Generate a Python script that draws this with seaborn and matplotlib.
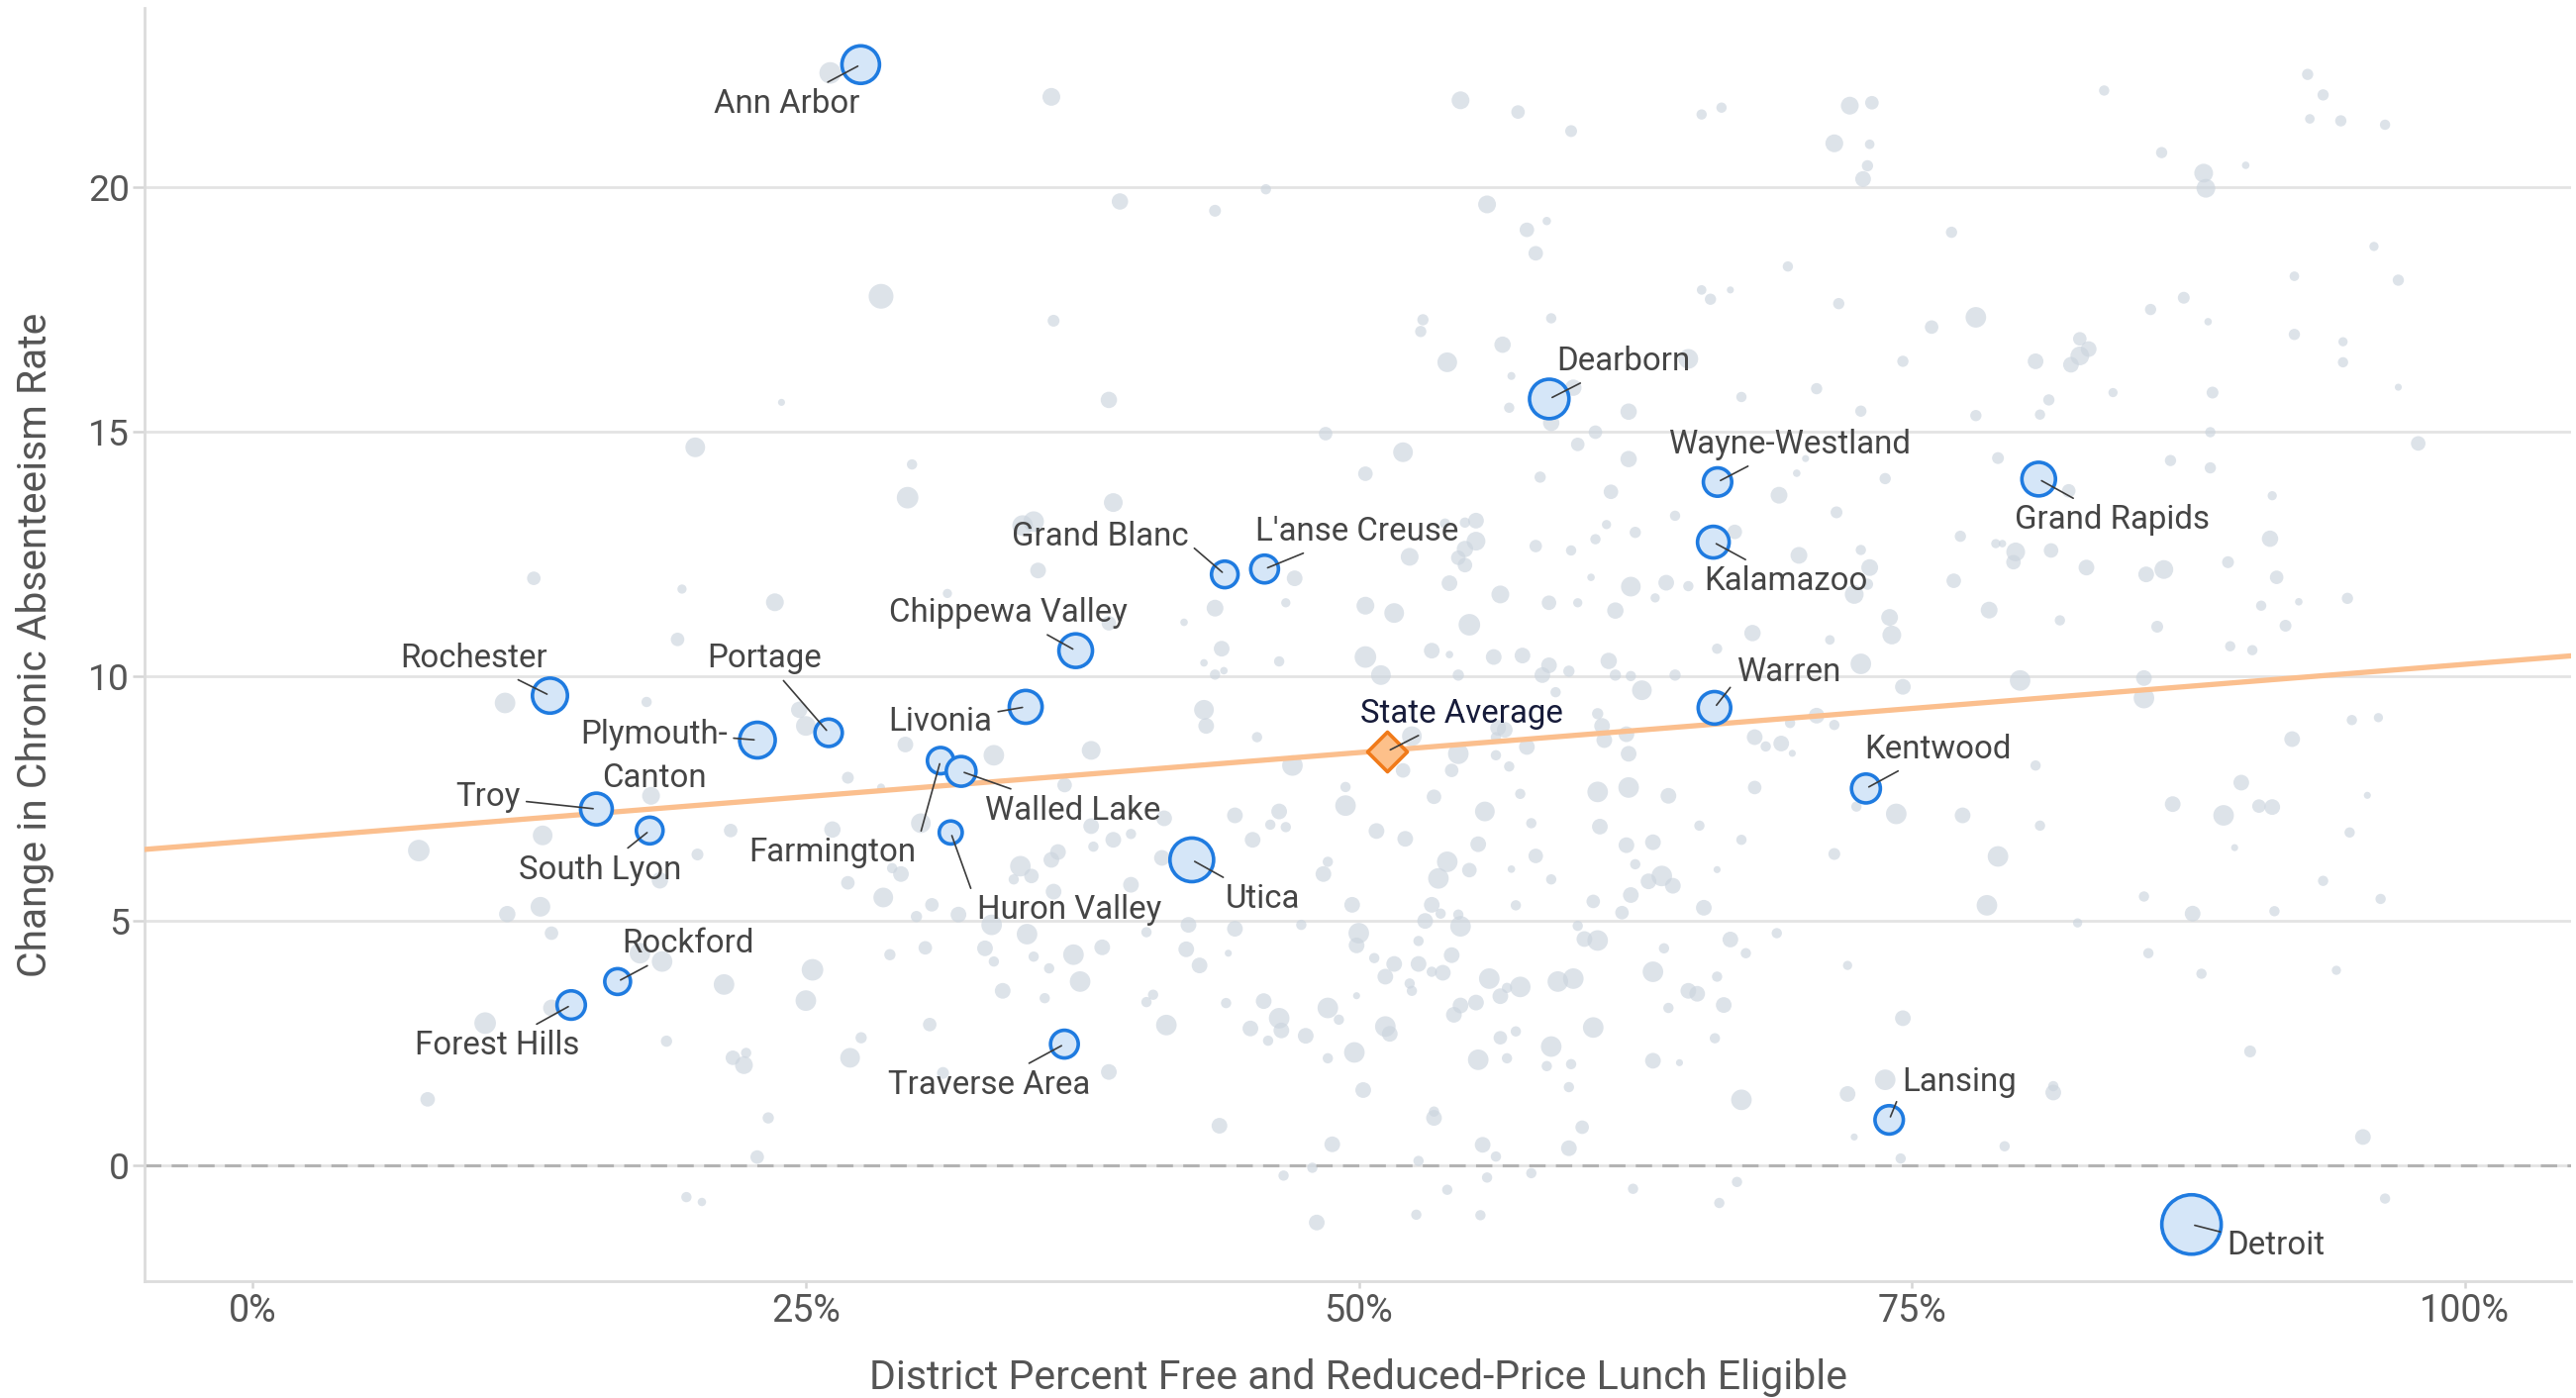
import matplotlib
matplotlib.use("Agg")
import matplotlib.pyplot as plt
import seaborn as sns
import pandas as pd
import numpy as np

# ---------------- data ----------------
# Background districts: % FRL eligible, change in chronic absenteeism, enrollment (thousands)
bg_frl = [
    26.1, 28.4, 23.9, 20.0, 29.8, 29.6, 12.7, 19.4, 23.6, 31.4, 19.2,
    36.1, 54.6, 57.2, 59.6, 65.5, 66.4, 45.8, 39.2, 43.5, 55.8, 57.6, 58.5, 58.0, 36.2, 52.9,
    52.8, 58.7, 65.5, 65.9, 66.8, 56.5, 54.0, 56.9, 64.9, 59.7, 38.7, 56.8, 62.2, 67.3, 58.7,
    48.5, 60.7, 52.0, 50.3, 59.9, 62.2, 58.2, 61.4, 38.9, 34.8, 35.3, 64.3, 61.2, 62.5, 55.3,
    54.8, 53.9, 55.3, 54.8, 54.5, 54.8, 60.7, 58.0, 59.6, 52.3, 35.5, 47.1, 60.5, 62.3, 63.9,
    64.9, 67.0, 54.1, 56.4, 46.7, 43.5, 50.3, 51.6, 58.6, 59.9, 61.6, 63.4, 42.1, 38.7, 55.0, 67.8,
    92.9, 93.6, 93.0, 94.4, 96.4, 83.7, 72.2, 73.2, 71.5, 73.1, 73.0, 72.8, 86.3, 88.2, 88.3,
    90.1, 76.8, 69.4, 71.7, 77.9, 75.9, 74.6, 70.7, 72.7, 77.9, 80.6, 82.6, 82.6, 83.0, 82.2,
    81.2, 80.8, 84.1, 85.8, 87.3, 88.4, 88.6, 88.5, 92.3, 95.9, 97.0, 92.3, 94.5, 94.5, 97.0,
    97.9, 70.2, 69.8, 73.8, 69.0, 71.6, 78.9, 82.1, 86.7, 88.5, 91.3, 77.2, 78.8, 79.1, 79.7,
    79.6, 81.3, 69.9, 72.7, 73.1, 73.0, 72.4, 76.9, 82.9, 85.6, 86.4, 89.3, 91.2, 91.5, 90.8,
    92.5, 94.7, 91.9, 78.5, 81.7, 86.1, 74.0, 74.1, 71.3,
    11.4, 17.8, 24.7, 25.0, 29.5, 26.9, 28.4, 18.0, 13.1, 7.5, 21.6, 26.2, 30.2, 20.1, 18.4,
    26.9, 28.5, 29.3, 28.9, 30.7, 30.0, 13.0, 11.5, 13.5, 17.5, 18.5, 21.3, 25.3, 25.0, 28.8,
    30.4, 10.5, 13.5, 18.7, 21.7, 22.2, 22.3, 27.0, 27.5, 30.6, 7.9, 23.3, 22.8, 19.6, 20.3, 31.2,
    43.8, 50.3, 53.3, 54.1, 56.1, 57.4, 61.3, 59.5, 58.6, 58.3, 43.0, 46.4, 43.5, 43.9, 51.0,
    54.5, 61.6, 62.3, 64.3, 66.2, 62.8, 58.9, 43.0, 43.1, 60.8, 61.0, 56.3, 56.6, 56.2, 62.1,
    61.1, 52.4, 45.4, 37.9, 33.5, 57.6, 54.5, 67.9, 62.2, 56.2, 47.0, 56.8, 54.2, 52.0,
    36.7, 49.4, 60.8, 62.2, 64.0, 67.9, 57.3, 53.4, 49.4, 46.4, 44.4, 55.7, 41.2, 46.0, 46.7,
    57.8, 60.9, 65.4, 50.8, 52.1, 45.2, 37.9, 39.7, 38.9, 55.4, 62.1, 63.3, 67.3, 38.0, 36.4,
    36.1, 34.7, 35.2, 34.4, 58.0, 54.0, 55.0, 56.9, 53.6, 58.7, 62.5, 66.2, 63.7, 63.1, 64.2,
    48.6, 48.4, 41.1, 39.7, 36.2, 49.7, 53.3, 53.7, 53.0, 54.5, 57.1, 60.6, 62.3, 61.9, 65.6,
    33.4, 31.9, 42.3, 40.4, 44.4, 47.4, 54.6,
    35.0, 33.1, 37.1, 38.4, 42.2, 44.1, 50.0, 49.9, 52.7, 54.2, 59.9, 60.2, 60.8, 63.8, 66.8,
    67.5, 33.5, 35.3, 36.0, 42.8, 50.7, 51.6, 52.7, 51.2, 53.3, 53.8, 55.9, 57.3, 56.7, 59.0,
    59.7, 63.3, 66.2, 37.4, 33.9, 35.8, 40.7, 40.4, 52.3, 52.4, 49.9, 56.4, 55.3, 54.6, 64.9,
    65.3, 44.0, 45.7, 48.6, 54.3, 64.0, 66.5, 46.4, 49.1, 41.3, 45.1, 46.5, 47.6, 45.9, 51.2,
    51.4, 56.4, 57.1, 60.6, 66.1,
    49.8, 48.6, 55.4, 56.7, 58.7, 58.5, 59.6, 63.3, 64.5, 38.7, 50.2, 59.5, 67.3, 53.4, 53.4,
    43.7, 60.1, 48.8, 55.6, 56.2, 59.5, 52.7, 47.9, 46.6, 55.8, 57.8, 54.0, 62.4, 67.1, 66.3,
    52.6, 55.5, 48.1,
    72.7, 74.6, 79.9, 85.5, 85.5, 89.4, 90.4, 70.7, 69.5, 71.5, 69.1, 68.4, 69.6, 94.9, 96.1,
    92.2, 80.6, 89.9, 86.8, 89.1, 90.7, 91.3, 95.6, 72.5, 74.3, 77.3, 80.8, 94.8, 89.6, 71.5,
    78.9, 93.6, 85.5, 96.2, 78.4, 87.7, 91.4, 82.5, 68.9, 72.1, 85.7, 88.1, 94.2, 74.6, 90.3,
    73.8, 72.1, 81.4, 81.4, 72.4, 79.2, 95.4, 74.5, 96.4,
]
bg_change = [
    22.34, 17.77, 15.60, 14.68, 14.33, 13.65, 12.00, 11.78, 11.51, 11.69, 10.75,
    21.85, 21.78, 21.54, 21.15, 21.49, 21.63, 19.96, 19.71, 19.52, 19.65, 19.13, 19.31, 18.65, 17.27, 17.29,
    17.05, 17.32, 17.90, 17.71, 17.90, 16.78, 16.42, 16.14, 16.49, 15.90, 15.65, 15.49, 15.41, 15.71, 15.18,
    14.96, 14.99, 14.58, 14.14, 14.74, 14.44, 14.07, 13.77, 13.55, 13.08, 13.16, 13.28, 13.10, 12.94, 13.18,
    13.14, 13.12, 12.76, 12.60, 12.42, 12.27, 12.80, 12.66, 12.57, 12.44, 12.16, 12.00, 12.02, 11.83, 11.91,
    11.84, 12.95, 11.90, 11.67, 11.50, 11.39, 11.44, 11.29, 11.50, 11.50, 11.34, 11.60, 11.10, 11.08, 11.05, 10.88,
    22.31, 21.89, 21.40, 21.36, 21.28, 21.98, 21.67, 21.73, 20.90, 20.88, 20.44, 20.17, 20.71, 20.29, 19.98,
    20.45, 19.08, 18.38, 17.62, 17.34, 17.14, 16.44, 15.88, 15.42, 15.33, 16.44, 16.90, 16.55, 16.69, 16.37,
    15.65, 15.35, 15.80, 17.50, 17.74, 17.25, 15.80, 14.99, 18.18, 18.79, 18.10, 16.99, 16.84, 16.42, 15.91,
    14.76, 14.45, 14.15, 14.04, 13.70, 13.35, 14.46, 13.79, 14.41, 14.26, 13.69, 12.86, 12.71, 12.71, 12.54,
    12.33, 12.57, 12.47, 12.58, 12.22, 11.88, 11.67, 11.95, 12.22, 12.08, 12.18, 12.33, 12.81, 12.02, 11.44,
    11.52, 11.59, 11.03, 11.35, 11.14, 11.01, 11.20, 10.84, 10.74,
    9.45, 9.47, 9.31, 8.98, 8.60, 7.92, 7.72, 7.55, 6.74, 6.43, 6.84, 6.86, 6.99, 6.35, 5.82,
    5.77, 5.47, 5.95, 6.07, 5.32, 5.08, 5.28, 5.13, 4.74, 4.33, 4.16, 3.69, 3.99, 3.36, 4.30,
    4.44, 2.90, 3.21, 2.53, 2.19, 2.04, 2.29, 2.19, 2.60, 2.87, 1.34, 0.96, 0.16, -0.66, -0.76, 1.88,
    10.56, 10.39, 10.52, 10.44, 10.39, 10.42, 10.31, 10.10, 10.22, 10.02, 10.27, 10.30, 10.03, 10.11, 10.02,
    10.02, 10.02, 10.00, 10.02, 10.56, 9.71, 9.67, 9.31, 8.98, 9.23, 8.98, 8.94, 8.90, 8.75, 8.81,
    8.69, 8.77, 8.75, 8.48, 8.38, 8.55, 8.41, 8.75, 8.41, 8.38, 8.17, 8.15, 8.07, 8.07,
    7.77, 7.73, 7.63, 7.72, 7.55, 7.72, 7.59, 7.53, 7.35, 7.23, 7.15, 7.23, 7.09, 6.96, 6.91,
    6.99, 6.92, 6.94, 6.83, 6.67, 6.65, 6.93, 6.77, 6.65, 6.56, 6.54, 6.60, 6.65, 6.51, 6.40,
    6.24, 6.11, 5.91, 5.84, 6.32, 6.20, 6.03, 6.05, 5.86, 5.84, 6.15, 6.04, 5.91, 5.80, 5.71,
    6.20, 5.95, 6.28, 5.73, 5.59, 5.32, 5.32, 5.14, 4.99, 5.12, 5.31, 5.39, 5.52, 5.16, 5.26,
    4.91, 5.12, 4.91, 4.76, 4.83, 4.91, 4.88,
    4.72, 4.43, 4.30, 4.45, 4.41, 4.33, 4.74, 4.49, 4.58, 4.29, 4.89, 4.62, 4.59, 4.43, 4.61,
    4.33, 4.16, 4.26, 4.02, 4.08, 4.23, 4.11, 4.11, 3.85, 3.95, 3.93, 3.81, 3.64, 3.62, 3.75,
    3.81, 3.95, 3.85, 3.75, 3.56, 3.41, 3.48, 3.33, 3.71, 3.56, 3.46, 3.45, 3.32, 3.26, 3.56,
    3.50, 3.31, 3.35, 3.21, 3.07, 3.21, 3.27, 3.00, 2.97, 2.86, 2.79, 2.75, 2.64, 2.54, 2.83,
    2.68, 2.60, 2.73, 2.81, 2.59,
    2.30, 2.18, 2.15, 2.18, 2.42, 2.02, 2.06, 2.13, 2.09, 1.90, 1.53, 1.59, 1.33, 1.09, 0.96,
    0.80, 0.77, 0.42, 0.41, 0.17, 0.34, 0.08, -0.06, -0.22, -0.26, -0.17, -0.51, -0.49, -0.35, -0.78,
    -1.02, -1.03, -1.18,
    10.25, 9.78, 9.91, 9.96, 9.55, 10.61, 10.53, 9.19, 9.04, 9.00, 8.62, 8.56, 8.42, 9.10, 9.15,
    8.71, 8.17, 7.82, 7.38, 7.15, 7.34, 7.32, 7.56, 7.33, 7.18, 7.15, 6.94, 6.80, 6.49, 6.36,
    6.31, 5.81, 5.49, 5.44, 5.31, 5.14, 5.19, 4.95, 4.74, 4.08, 4.33, 3.91, 3.98, 3.00, 2.32,
    1.74, 1.45, 1.61, 1.48, 0.57, 0.38, 0.57, 0.13, -0.69,
]
bg_enroll = [
    6.6, 8.7, 0.7, 5.5, 1.5, 6.6, 2.6, 1.2, 4.5, 1.2, 2.6,
    4.5, 4.5, 2.6, 2.0, 1.5, 1.5, 1.5, 3.8, 2.0, 4.5, 3.0, 1.0, 3.0, 2.0, 1.8,
    1.8, 1.5, 1.3, 1.8, 0.7, 3.8, 5.5, 0.9, 5.5, 3.8, 3.8, 1.5, 3.8, 1.5, 3.8,
    2.6, 2.6, 5.5, 3.0, 2.6, 3.8, 1.8, 3.0, 5.0, 6.0, 6.0, 1.5, 1.2, 1.8, 3.5,
    1.5, 1.5, 5.0, 3.8, 3.0, 3.0, 1.5, 2.2, 1.5, 4.5, 3.5, 3.5, 0.8, 5.5, 3.5,
    1.5, 3.0, 3.5, 4.5, 1.2, 4.0, 4.5, 5.5, 3.0, 1.2, 3.8, 1.2, 0.8, 3.0, 6.6, 3.8,
    1.8, 1.8, 1.3, 1.8, 1.5, 1.5, 4.5, 2.6, 4.5, 1.3, 1.8, 3.5, 1.8, 5.0, 5.0,
    0.8, 1.8, 1.5, 1.8, 6.0, 2.6, 1.8, 1.8, 1.8, 1.8, 3.5, 2.6, 5.0, 3.5, 3.5,
    1.8, 1.5, 1.2, 1.8, 2.0, 0.8, 2.0, 1.5, 1.3, 1.2, 1.8, 1.8, 1.2, 1.5, 0.7,
    3.0, 0.7, 0.8, 1.8, 4.0, 2.0, 2.0, 2.6, 1.8, 1.8, 1.2, 1.8, 1.2, 0.8, 5.0,
    3.0, 3.0, 4.0, 1.5, 4.0, 1.8, 5.0, 3.0, 3.5, 3.5, 5.0, 2.0, 3.8, 2.6, 1.5,
    0.8, 1.8, 2.0, 4.0, 1.5, 2.0, 4.0, 5.0, 1.3,
    6.0, 1.5, 3.8, 5.5, 3.5, 2.0, 0.9, 4.5, 5.5, 6.6, 2.6, 3.8, 5.5, 2.0, 3.8,
    2.6, 5.5, 3.5, 1.5, 2.6, 1.8, 5.5, 3.8, 2.6, 6.0, 6.0, 6.0, 6.6, 6.0, 1.8,
    2.6, 6.6, 4.0, 1.8, 3.0, 4.5, 1.5, 5.5, 1.8, 2.6, 3.0, 1.8, 2.6, 1.5, 1.0, 2.0,
    3.5, 6.6, 3.5, 0.8, 3.5, 3.5, 3.8, 1.8, 3.5, 3.5, 0.8, 1.5, 1.5, 0.8, 5.5,
    1.8, 1.8, 1.5, 1.8, 1.5, 5.5, 1.5, 5.5, 3.5, 1.8, 3.5, 3.5, 3.5, 1.5, 3.5,
    3.5, 5.5, 1.5, 5.0, 6.0, 3.5, 6.0, 3.5, 3.5, 1.5, 6.0, 1.5, 2.6, 3.0,
    3.0, 1.5, 6.0, 6.0, 3.5, 2.6, 1.5, 3.0, 6.0, 3.5, 3.5, 5.5, 3.5, 1.5, 1.5,
    1.5, 3.5, 1.5, 3.5, 3.5, 3.5, 3.5, 1.5, 3.5, 3.5, 3.5, 3.5, 1.5, 1.5, 3.5,
    3.5, 6.0, 3.0, 1.5, 3.0, 6.0, 3.0, 0.8, 6.0, 1.5, 1.5, 0.7, 6.0, 3.5, 3.5,
    1.5, 3.5, 3.5, 3.5, 3.5, 3.5, 3.5, 1.5, 3.5, 1.5, 1.5, 2.6, 3.5, 2.6, 3.5,
    6.0, 3.5, 3.5, 1.5, 3.5, 1.5, 6.0,
    6.0, 3.5, 6.0, 3.5, 3.5, 0.7, 6.0, 3.5, 1.5, 3.5, 1.5, 3.5, 6.0, 1.5, 3.5,
    1.5, 1.5, 1.5, 1.5, 3.5, 1.5, 3.5, 3.5, 3.5, 1.5, 3.5, 6.0, 6.0, 1.5, 6.0,
    6.0, 6.0, 1.5, 6.0, 3.5, 1.5, 1.5, 1.5, 1.5, 1.5, 0.7, 3.5, 3.5, 3.5, 3.5,
    3.5, 1.5, 3.5, 6.0, 3.5, 1.5, 3.5, 6.0, 1.5, 6.0, 3.5, 3.5, 3.5, 1.5, 6.0,
    3.5, 2.6, 1.5, 6.0, 1.5,
    6.0, 1.5, 6.0, 1.5, 6.0, 1.5, 1.5, 3.5, 0.7, 3.5, 3.5, 1.5, 6.0, 1.5, 3.5,
    3.5, 2.6, 3.5, 3.5, 1.5, 3.5, 1.5, 1.5, 1.5, 1.5, 1.5, 1.5, 1.5, 1.5, 1.5,
    1.5, 1.5, 3.5,
    6.0, 3.5, 6.0, 3.5, 6.0, 1.5, 1.5, 3.5, 1.5, 1.5, 3.5, 1.5, 0.7, 1.5, 1.2,
    3.5, 1.5, 3.5, 3.5, 6.0, 2.6, 3.5, 0.7, 1.5, 6.0, 3.5, 1.5, 1.5, 0.7, 2.0,
    6.0, 1.5, 1.5, 1.5, 6.0, 3.5, 1.5, 1.2, 1.5, 1.2, 1.5, 1.5, 1.2, 3.5, 2.0,
    6.0, 3.5, 1.5, 3.5, 0.7, 1.5, 3.5, 1.5, 1.5,
]

# Highlighted districts
hl_names = ["Ann Arbor", "Dearborn", "Wayne-Westland", "Grand Rapids", "Grand Blanc",
            "L'anse Creuse", "Kalamazoo", "Chippewa Valley", "Rochester", "Portage",
            "Plymouth-\nCanton", "Livonia", "Farmington", "Walled Lake", "Huron Valley",
            "Troy", "South Lyon", "Utica", "Warren", "Kentwood", "Rockford",
            "Forest Hills", "Traverse Area", "Lansing", "Detroit"]
hl_frl = [27.48, 58.61, 66.22, 80.74, 43.94, 45.74, 66.03, 37.20, 13.43, 26.03,
          22.81, 34.94, 31.09, 32.02, 31.55, 15.53, 17.94, 42.45, 66.08, 72.93,
          16.49, 14.39, 36.69, 73.98, 87.65]
hl_change = [22.51, 15.67, 13.97, 14.03, 12.08, 12.19, 12.74, 10.52, 9.60, 8.84,
             8.69, 9.37, 8.27, 8.05, 6.80, 7.28, 6.84, 6.24, 9.35, 7.70,
             3.75, 3.27, 2.47, 0.92, -1.22]
hl_enroll = [20.0, 22.0, 11.4, 16.0, 10.0, 10.9, 14.2, 16.0, 17.4, 10.6,
             18.0, 15.3, 9.8, 12.5, 7.5, 14.2, 10.1, 27.0, 15.0, 11.8,
             9.4, 11.4, 10.9, 11.4, 50.0]

state_avg_frl = [51.29]
state_avg_change = [8.46]

trend_intercept = 6.63
trend_slope = 0.0361

x_ticks = [0, 25, 50, 75, 100]
x_ticklabels = ["0%", "25%", "50%", "75%", "100%"]
y_ticks = [0, 5, 10, 15, 20]

# ---------------- layout / style ----------------
label_layout = {
    "Ann Arbor": ((-26.9, -14.3), (0.5, 0.5)),
    "Dearborn": ((26.9, 13.7), (0.5, 0.5)),
    "Wayne-Westland": ((26.3, 13.7), (0.5, 0.5)),
    "Grand Rapids": ((26.9, -14.9), (0.5, 0.5)),
    "Grand Blanc": ((-45.4, 13.7), (1.0, 0.3)),
    "L'anse Creuse": ((33.5, 13.7), (0.5, 0.5)),
    "Kalamazoo": ((26.3, -14.3), (0.5, 0.5)),
    "Chippewa Valley": ((-24.5, 13.7), (0.5, 0.5)),
    "Rochester": ((-27.5, 13.7), (0.5, 0.5)),
    "Portage": ((-23.3, 26.9), (0.5, 0.5)),
    "Plymouth-\nCanton": ((-37.6, -6.0), (1.0, 0.75)),
    "Livonia": ((-31.1, -5.4), (0.5, 0.5)),
    "Farmington": ((-39.4, -33.5), (1.0, 0.6)),
    "Walled Lake": ((40.6, -14.3), (0.5, 0.5)),
    "Huron Valley": ((43.0, -28.1), (0.0, 0.65)),
    "Troy": ((-39.4, 4.2), (0.5, 0.5)),
    "South Lyon": ((-17.9, -14.3), (0.5, 0.5)),
    "Utica": ((25.7, -14.3), (0.5, 0.5)),
    "Warren": ((26.9, 13.1), (0.0, 0.25)),
    "Kentwood": ((26.3, 14.3), (0.5, 0.5)),
    "Rockford": ((25.7, 13.7), (0.5, 0.5)),
    "Forest Hills": ((-26.9, -14.9), (0.5, 0.5)),
    "Traverse Area": ((-27.5, -14.9), (0.5, 0.5)),
    "Lansing": ((25.7, 13.7), (0.0, 0.35)),
    "Detroit": ((30.5, -7.8), (0.5, 0.5)),
}

sns.set_theme(style="white")
plt.rcParams['font.family'] = ['Roboto', 'DejaVu Sans']

W, H, DPI = 2602, 1412, 200
fig = plt.figure(figsize=(W / DPI, H / DPI), dpi=DPI)
ax = fig.add_axes([146 / W, 1 - 1294 / H, (2597 - 146) / W, (1294 - 8) / H])

S_PER_K = 9.33  # marker area (pt^2) per thousand students
size_norm = (0, 50)
sizes = (0, 50 * S_PER_K)

bg = pd.DataFrame({"frl": bg_frl, "change": bg_change, "enroll": bg_enroll})
hl = pd.DataFrame({"frl": hl_frl, "change": hl_change, "enroll": hl_enroll, "name": hl_names})

sns.scatterplot(data=bg, x="frl", y="change", size="enroll", sizes=sizes, size_norm=size_norm,
                color="#cbd4de", alpha=0.65, linewidth=0, legend=False, ax=ax, zorder=2)

ax.axhline(0, color="#b3b3b3", lw=1.1, ls=(0, (5.4, 3.4)), zorder=2.5)

xs = np.array([-10, 110])
sns.lineplot(x=xs, y=trend_intercept + trend_slope * xs, color="#fbbf8e", lw=1.9, ax=ax, zorder=3)

sns.scatterplot(data=hl, x="frl", y="change", size="enroll", sizes=sizes, size_norm=size_norm,
                color="#d5e6f8", edgecolor="#1f7be0", linewidth=1.3, legend=False, ax=ax, zorder=4)

sns.scatterplot(x=state_avg_frl, y=state_avg_change, marker="D", s=104, color="#fdc08a",
                edgecolor="#f07a1a", linewidth=1.3, legend=False, ax=ax, zorder=5)

for name, x, y in zip(hl_names, hl_frl, hl_change):
    off, relpos = label_layout[name]
    ax.annotate(name, xy=(x, y), xytext=off, textcoords="offset points",
                ha="center", va="center", fontsize=11.9, color="#454545",
                multialignment="center", linespacing=1.5,
                arrowprops=dict(arrowstyle="-", color="#3c3c3c", lw=0.6,
                                shrinkA=0, shrinkB=1.2, relpos=relpos),
                zorder=6)

ax.annotate("State Average", xy=(state_avg_frl[0], state_avg_change[0]), xytext=(26.9, 13.7),
            textcoords="offset points", ha="center", va="center", fontsize=11.9, color="#161b3a",
            arrowprops=dict(arrowstyle="-", color="#3c3c3c", lw=0.6, shrinkA=0, shrinkB=1.2),
            zorder=6)

ax.set_xlim(-4.90, 104.81)
ax.set_ylim(-2.38, 23.67)
ax.set_xticks(x_ticks)
ax.set_xticklabels(x_ticklabels)
ax.set_yticks(y_ticks)

ax.yaxis.grid(True, color="#e3e3e3", lw=1.0)
ax.xaxis.grid(False)
ax.set_axisbelow(True)

for s in ["top", "right"]:
    ax.spines[s].set_visible(False)
for s in ["left", "bottom"]:
    ax.spines[s].set_color("#dcdcdc")
    ax.spines[s].set_linewidth(1.0)

ax.tick_params(axis="x", length=2.4, width=0.9, color="#d5d5d5", labelsize=13.6,
               labelcolor="#555555", pad=2, bottom=True)
ax.tick_params(axis="y", length=4.3, width=0.9, color="#d5d5d5", labelsize=13.4,
               labelcolor="#555555", pad=1, left=True)

ax.set_xlabel("District Percent Free and Reduced-Price Lunch Eligible", fontsize=14.8,
              color="#555555", labelpad=10.5)
ax.set_ylabel("Change in Chronic Absenteeism Rate", fontsize=14.7, color="#555555", labelpad=12.5)

fig.savefig("out.png", dpi=DPI)
